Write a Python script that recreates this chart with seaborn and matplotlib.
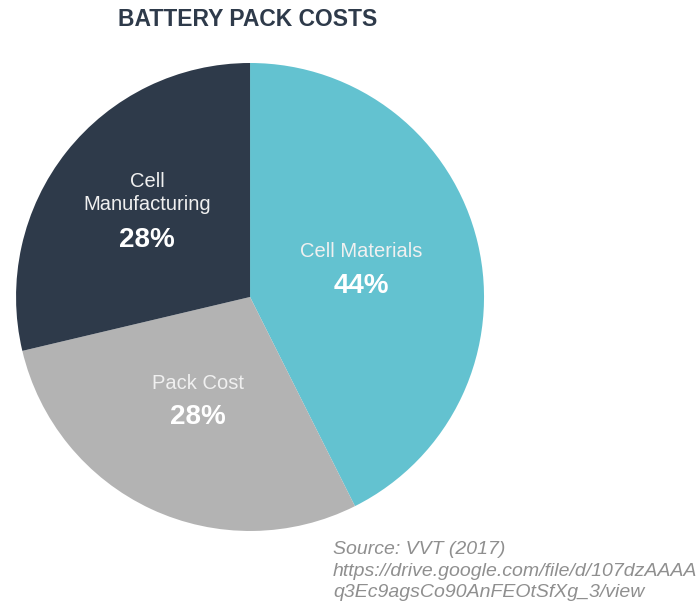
import seaborn as sns
import matplotlib.pyplot as plt

categories = ['Cell Materials', 'Pack Cost', 'Cell\nManufacturing']
shares = [42.6, 28.7, 28.7]
pct_labels = ['44%', '28%', '28%']
colors = ['#63c2d0', '#b3b3b3', '#2e3a4a']
source_lines = ['Source: VVT (2017)',
                'https://drive.google.com/file/d/107dzAAAA',
                'q3Ec9agsCo90AnFEOtSfXg_3/view']

sns.set_theme(style='white')
plt.rcParams['font.family'] = ['Liberation Sans', 'DejaVu Sans']

fig = plt.figure(figsize=(7, 6.04), dpi=100)
ax = fig.add_axes([0.0229, 0.1209, 0.6686, 0.7748])

wedges, _ = ax.pie(shares, colors=colors, startangle=90, counterclock=False,
                   radius=1.0, wedgeprops=dict(linewidth=0))
ax.set_xlim(-1, 1)
ax.set_ylim(-1, 1)
ax.set_aspect('equal')
ax.axis('off')

# (x, name y, percent y) in the pie's data units
label_pos = [(0.474, 0.195, 0.046), (-0.222, -0.370, -0.512), (-0.440, 0.444, 0.244)]
for (x, yn, yp), name, pct in zip(label_pos, categories, pct_labels):
    ax.text(x, yn, name, ha='center', va='center', fontsize=14.5,
            color='#f0f0f0', linespacing=1.3)
    ax.text(x, yp, pct, ha='center', va='center', fontsize=20,
            fontweight='bold', color='white')

fig.text(248 / 700, 1 - 20 / 604, 'BATTERY PACK COSTS', ha='center', va='center',
         fontsize=16.5, fontweight='bold', color='#2e3a4a')

fig.text(333 / 700, 1 - 541 / 604, '\n'.join(source_lines), ha='left', va='top',
         fontsize=14, style='italic', color='#8f8f8f', linespacing=1.36)

fig.savefig('out.png', dpi=100)
